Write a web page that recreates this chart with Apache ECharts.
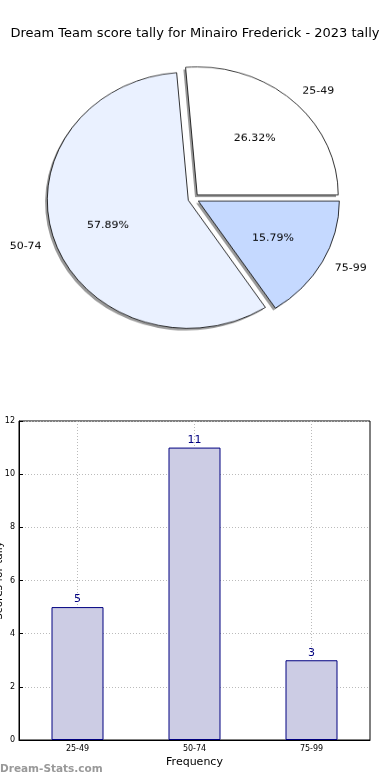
<!DOCTYPE html>
<html>
<head>
<meta charset="utf-8">
<script src="https://cdn.jsdelivr.net/npm/echarts@6/dist/echarts.min.js"></script>
<style>
html,body{margin:0;padding:0;background:#fff;}
#bar{position:absolute;left:0;top:0;width:390px;height:780px;}
#pie{position:absolute;left:0;top:0;width:390px;height:400px;transform:scaleY(0.908);transform-origin:0 198.6px;}
</style>
</head>
<body>
<div id="bar"></div>
<div id="pie"></div>
<script>
const titleText = 'Dream Team score tally for Minairo Frederick - 2023 tally';
const categories = ['25-49', '50-74', '75-99'];
const counts = [5, 11, 3];
const yTicks = [0, 2, 4, 6, 8, 10, 12];
const pieColors = ['#ffffff', '#eaf1ff', '#c5d9ff'];
const FONT = 'DejaVu Sans';

const bar = echarts.init(document.getElementById('bar'), null, {renderer: 'canvas'});
bar.setOption({
  animation: false,
  textStyle: {fontFamily: FONT},
  title: {
    text: titleText, left: 'center', top: 22,
    textStyle: {fontFamily: FONT, fontSize: 13, fontWeight: 'normal', color: '#000'}
  },
  graphic: [{
    type: 'text', left: 0, top: 764,
    style: {text: 'Dream-Stats.com', fill: '#999', font: 'bold 10.5px "DejaVu Sans"'}
  }],
  grid: {left: 19, right: 20, top: 421, bottom: 40, show: true, borderColor: '#000', borderWidth: 1, containLabel: false, outerBoundsMode: 'none'},
  xAxis: {
    type: 'category', data: categories,
    axisLine: {lineStyle: {color: '#000', width: 1}},
    axisTick: {alignWithLabel: true, inside: true, length: 4, lineStyle: {color: '#000'}},
    axisLabel: {fontSize: 8, color: '#000', margin: 5, fontFamily: FONT},
    splitLine: {show: true, alignWithLabel: true, lineStyle: {color: '#bbb', type: [1, 2], width: 1}},
    name: 'Frequency', nameLocation: 'middle', nameGap: 17, nameMoveOverlap: false,
    nameTextStyle: {fontSize: 11, color: '#000', fontFamily: FONT}
  },
  yAxis: {
    type: 'value', min: yTicks[0], max: yTicks[yTicks.length - 1], interval: yTicks[1] - yTicks[0],
    axisLine: {show: true, lineStyle: {color: '#000', width: 1}},
    axisTick: {show: true, inside: true, length: 4, lineStyle: {color: '#000'}},
    axisLabel: {fontSize: 8, color: '#000', margin: 4, fontFamily: FONT},
    splitLine: {show: true, lineStyle: {color: '#bbb', type: [1, 2], width: 1}},
    name: 'Scores for tally', nameLocation: 'middle', nameGap: 14, nameRotate: 90, nameMoveOverlap: false,
    nameTextStyle: {fontSize: 10.5, color: '#000', fontFamily: FONT}
  },
  series: [{
    type: 'bar', data: counts, barWidth: 52,
    itemStyle: {color: '#ccccE4', borderColor: '#000080', borderWidth: 1},
    label: {show: true, position: 'top', distance: 2, color: '#000080', fontSize: 11, fontFamily: FONT},
    silent: true
  }]
});

const pie = echarts.init(document.getElementById('pie'), null, {renderer: 'canvas'});
const pieData = categories.map((c, i) => ({
  name: c, value: counts[i], selected: true,
  itemStyle: {color: pieColors[i]},
  select: {itemStyle: {color: pieColors[i]}}
}));
const plainData = categories.map((c, i) => ({name: c, value: counts[i], selected: true}));
const common = {
  type: 'pie', startAngle: 0, clockwise: false,
  selectedMode: 'multiple', selectedOffset: 5.5, avoidLabelOverlap: false, silent: true,
  emphasis: {disabled: true}
};
pie.setOption({
  animation: false,
  textStyle: {fontFamily: FONT},
  series: [Object.assign({}, common, {
    // shadow layer
    center: [191.3, 201], radius: 141,
    data: plainData,
    itemStyle: {color: 'rgba(0,0,0,0.4)', borderWidth: 0},
    select: {itemStyle: {color: 'rgba(0,0,0,0.4)', borderWidth: 0}},
    label: {show: false}, labelLine: {show: false}
  }), Object.assign({}, common, {
    center: [193.5, 198.6], radius: 141,
    data: pieData,
    itemStyle: {borderColor: '#000', borderWidth: 0.8},
    label: {show: true, position: 'outside', formatter: '{b}', fontSize: 11, color: '#000', fontFamily: FONT, distanceToLabelLine: 0},
    labelLine: {show: false, length: 14.1, length2: 0}
  }), Object.assign({}, common, {
    center: [193.5, 198.6], radius: [40, 124],
    data: plainData,
    itemStyle: {color: 'rgba(0,0,0,0)', borderWidth: 0},
    select: {itemStyle: {color: 'rgba(0,0,0,0)', borderWidth: 0}},
    label: {show: true, position: 'inside', formatter: '{d}%', fontSize: 11, color: '#000', fontFamily: FONT},
    labelLine: {show: false}
  })]
});
</script>
</body>
</html>
